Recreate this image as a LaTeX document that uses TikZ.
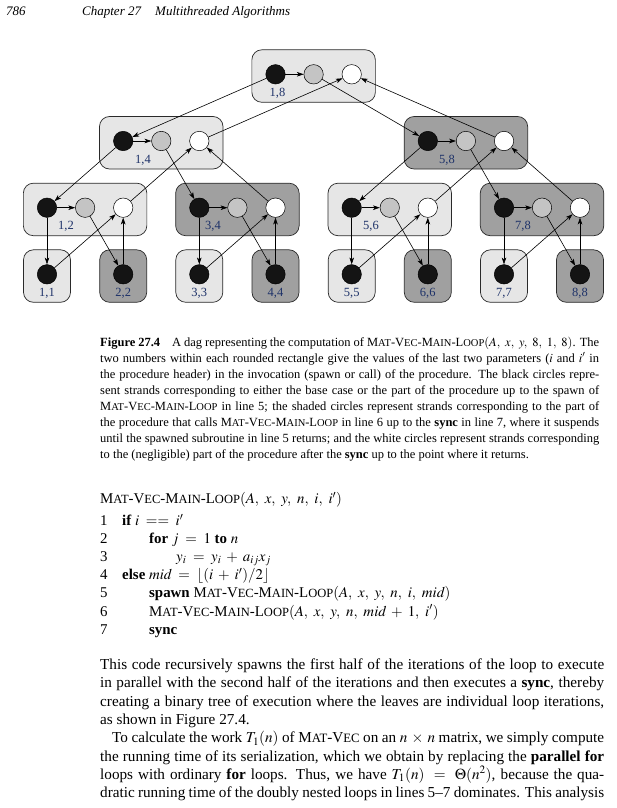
\documentclass[tikz,border=0pt]{standalone}
\usepackage{mathptmx}
\usepackage{fontspec}
\setmainfont{Liberation Serif}
\usetikzlibrary{arrows.meta}
\definecolor{lightbox}{HTML}{E6E6E6}
\definecolor{darkbox}{HTML}{A0A0A0}
\definecolor{graycirc}{HTML}{C4C4C4}
\definecolor{boxline}{HTML}{2A2A2A}
\definecolor{labblue}{RGB}{30,50,105}
\medmuskip=6mu plus 2mu minus 4mu
\thickmuskip=8mu plus 5mu
\makeatletter
\newcommand\fsc[1]{{\fontsize{\strip@pt\dimexpr 0.84\dimexpr\f@size pt\relax\relax}{0}\selectfont #1}}
\makeatother
\newcommand\MVML{M\fsc{AT}-V\fsc{EC}-M\fsc{AIN}-L\fsc{OOP}}
\newcommand\MV{M\fsc{AT}-V\fsc{EC}}
\newcommand\cm{,\mskip5mu}
\newcommand\jl[2]{\makebox[#1pt][s]{#2}}
\tikzset{
  lbox/.style={draw=boxline, fill=lightbox, rounded corners=10pt, line width=0.7pt, inner sep=0pt, minimum height=52.5pt},
  dbox/.style={lbox, fill=darkbox},
  bc/.style={circle, draw=black, fill=black!92, minimum size=19.4pt, inner sep=0pt, line width=0.5pt},
  gc/.style={bc, fill=graycirc},
  wc/.style={bc, fill=white},
  lab/.style={font=\fontsize{12.5}{12.5}\selectfont, text=labblue, inner sep=0pt},
  edg/.style={-{Stealth[length=6.8pt,width=4.6pt,inset=1.8pt]}, line width=0.6pt},
  hdr/.style={anchor=base west, inner sep=0pt, font=\fontsize{13}{13}\selectfont\itshape},
  captxt/.style={anchor=base west, inner sep=0pt, font=\fontsize{12.5}{12.5}\selectfont},
  bod/.style={anchor=base west, inner sep=0pt, font=\fontsize{15.2}{15.2}\selectfont},
  codetxt/.style={anchor=base west, inner sep=0pt, font=\fontsize{14.9}{14.9}\selectfont},
}
\begin{document}
\begin{tikzpicture}[x=1pt,y=-1pt]
\useasboundingbox (0,0) rectangle (616,808);
\fill[white] (0,0) rectangle (616,808);
% page header
\node[hdr] (pg) at (6,15.5) {786};
\node[hdr] (ch) at (82,15.5) {Chapter 27};
\node[hdr] (ct) at (155,15.5) {Multithreaded Algorithms};
% boxes
\node[lbox, minimum width=123.5pt] (B18) at (313.6,76.05) {};
\node[lbox, minimum width=123.5pt] (B14) at (161.25,142.75) {};
\node[dbox, minimum width=123.5pt] (B58) at (465.9,142.75) {};
\node[lbox, minimum width=123.5pt] (B12) at (85.1,209.45) {};
\node[dbox, minimum width=123.5pt] (B34) at (237.4,209.45) {};
\node[lbox, minimum width=123.5pt] (B56) at (389.75,209.45) {};
\node[dbox, minimum width=123.5pt] (B78) at (542,209.45) {};
\foreach \n/\x/\s in {11/47/lbox,22/123.2/dbox,33/199.3/lbox,44/275.5/dbox,55/351.7/lbox,66/427.8/dbox,77/504/lbox,88/580/dbox}{
  \node[\s, minimum width=47pt] (L\n box) at (\x,276.05) {};
}
% labels
\node[lab] (t18) at (277.5,93.3) {1,8};
\node[lab] (t14) at (143,160) {1,4};
\node[lab] (t58) at (447,160) {5,8};
\node[lab] (t12) at (66,226.7) {1,2};
\node[lab] (t34) at (213,226.7) {3,4};
\node[lab] (t56) at (371,226.7) {5,6};
\node[lab] (t78) at (523,226.7) {7,8};
\foreach \n/\x/\t in {11/47/{1,1},22/123.2/{2,2},33/199.3/{3,3},44/275.5/{4,4},55/351.7/{5,5},66/427.8/{6,6},77/504/{7,7},88/580/{8,8}}{
  \node[lab] (t\n) at (\x,293.3) {\t};
}
% circles
\node[bc] (b18) at (275.5,74.3) {};
\node[gc] (g18) at (313.6,74.3) {};
\node[wc] (w18) at (351.7,74.3) {};
\node[bc] (b14) at (123.2,141) {};
\node[gc] (g14) at (161.25,141) {};
\node[wc] (w14) at (199.3,141) {};
\node[bc] (b58) at (427.8,141) {};
\node[gc] (g58) at (465.9,141) {};
\node[wc] (w58) at (504,141) {};
\node[bc] (b12) at (47,207.7) {};
\node[gc] (g12) at (85.1,207.7) {};
\node[wc] (w12) at (123.2,207.7) {};
\node[bc] (b34) at (199.3,207.7) {};
\node[gc] (g34) at (237.4,207.7) {};
\node[wc] (w34) at (275.5,207.7) {};
\node[bc] (b56) at (351.7,207.7) {};
\node[gc] (g56) at (389.75,207.7) {};
\node[wc] (w56) at (427.8,207.7) {};
\node[bc] (b78) at (504,207.7) {};
\node[gc] (g78) at (542,207.7) {};
\node[wc] (w78) at (580,207.7) {};
\foreach \n/\x in {11/47,22/123.2,33/199.3,44/275.5,55/351.7,66/427.8,77/504,88/580}{
  \node[bc] (l\n) at (\x,274.3) {};
}
% edges
\draw[edg] (b18) -- (g18);
\draw[edg] (b18) -- (b14);
\draw[edg] (g18) -- (b58);
\draw[edg] (w14) -- (w18);
\draw[edg] (w58) -- (w18);
\draw[edg] (b14) -- (g14);
\draw[edg] (b14) -- (b12);
\draw[edg] (g14) -- (b34);
\draw[edg] (w12) -- (w14);
\draw[edg] (w34) -- (w14);
\draw[edg] (b58) -- (g58);
\draw[edg] (b58) -- (b56);
\draw[edg] (g58) -- (b78);
\draw[edg] (w56) -- (w58);
\draw[edg] (w78) -- (w58);
\draw[edg] (b12) -- (g12);
\draw[edg] (b12) -- (l11);
\draw[edg] (g12) -- (l22);
\draw[edg] (l11) -- (w12);
\draw[edg] (l22) -- (w12);
\draw[edg] (b34) -- (g34);
\draw[edg] (b34) -- (l33);
\draw[edg] (g34) -- (l44);
\draw[edg] (l33) -- (w34);
\draw[edg] (l44) -- (w34);
\draw[edg] (b56) -- (g56);
\draw[edg] (b56) -- (l55);
\draw[edg] (g56) -- (l66);
\draw[edg] (l55) -- (w56);
\draw[edg] (l66) -- (w56);
\draw[edg] (b78) -- (g78);
\draw[edg] (b78) -- (l77);
\draw[edg] (g78) -- (l88);
\draw[edg] (l77) -- (w78);
\draw[edg] (l88) -- (w78);
% caption
\node[captxt] (c1) at (100,346) {\jl{499}{\textbf{Figure 27.4}\hspace{9pt} A dag representing the computation of \MVML$(A\cm x\cm y\cm 8\cm 1\cm 8)$. The}};
\node[captxt] (c2) at (100,362) {\jl{499}{two numbers within each rounded rectangle give the values of the last two parameters ($i$ and $i'$ in}};
\node[captxt] (c3) at (100,378) {\jl{499}{the procedure header) in the invocation (spawn or call) of the procedure. The black circles repre-}};
\node[captxt] (c4) at (100,394) {\jl{499}{sent strands corresponding to either the base case or the part of the procedure up to the spawn of}};
\node[captxt] (c5) at (100,410) {\jl{499}{\MVML{} in line 5; the shaded circles represent strands corresponding to the part of}};
\node[captxt] (c6) at (100,426) {\jl{499}{the procedure that calls \MVML{} in line 6 up to the \textbf{sync} in line 7, where it suspends}};
\node[captxt] (c7) at (100,442) {\jl{499}{until the spawned subroutine in line 5 returns; and the white circles represent strands corresponding}};
\node[captxt] (c8) at (100,458) {to the (negligible) part of the procedure after the \textbf{sync} up to the point where it returns.};
% code
\node[codetxt] (p0) at (100,503.5) {\MVML$(A\cm x\cm y\cm n\cm i\cm i')$};
\foreach \k in {1,...,7}{
  \node[codetxt] (n\k) at (100,525.5+18.1*\k-18.1) {\k};
}
\node[codetxt] (p1) at (122,525.5) {\textbf{if} $i \mathrel{==} i'$};
\node[codetxt] (p2) at (149,543.6) {\textbf{for} $j = 1$ \textbf{to} $n$};
\node[codetxt] (p3) at (176,561.7) {$y_i = y_i + a_{ij}x_j$};
\node[codetxt] (p4) at (122,579.8) {\textbf{else} $\mathit{mid} = \lfloor (i+i')/2\rfloor$};
\node[codetxt] (p5) at (149,597.9) {\textbf{spawn} \MVML$(A\cm x\cm y\cm n\cm i\cm \mathit{mid})$};
\node[codetxt] (p6) at (149,616) {\MVML$(A\cm x\cm y\cm n\cm \mathit{mid}+1\cm i')$};
\node[codetxt] (p7) at (149,634.1) {\textbf{sync}};
% body text
\node[bod] (t1) at (100,669.5) {\jl{504}{This code recursively spawns the first half of the iterations of the loop to execute}};
\node[bod] (t2) at (100,687.8) {\jl{504}{in parallel with the second half of the iterations and then executes a \textbf{sync}, thereby}};
\node[bod] (t3) at (100,706.1) {\jl{504}{creating a binary tree of execution where the leaves are individual loop iterations,}};
\node[bod] (t4) at (100,724.4) {as shown in Figure 27.4.};
\node[bod] (t5) at (112,742.7) {\jl{492}{To calculate the work $T_1(n)$ of \MV{} on an $n\times n$ matrix, we simply compute}};
\node[bod] (t6) at (100,761) {\jl{504}{the running time of its serialization, which we obtain by replacing the \textbf{parallel for}}};
\node[bod] (t7) at (100,779.3) {\jl{504}{loops with ordinary \textbf{for} loops. Thus, we have $T_1(n) = \Theta(n^2)$, because the qua-}};
\node[bod] (t8) at (100,797.6) {\jl{504}{dratic running time of the doubly nested loops in lines 5--7 dominates. This analysis}};
\end{tikzpicture}
\end{document}
